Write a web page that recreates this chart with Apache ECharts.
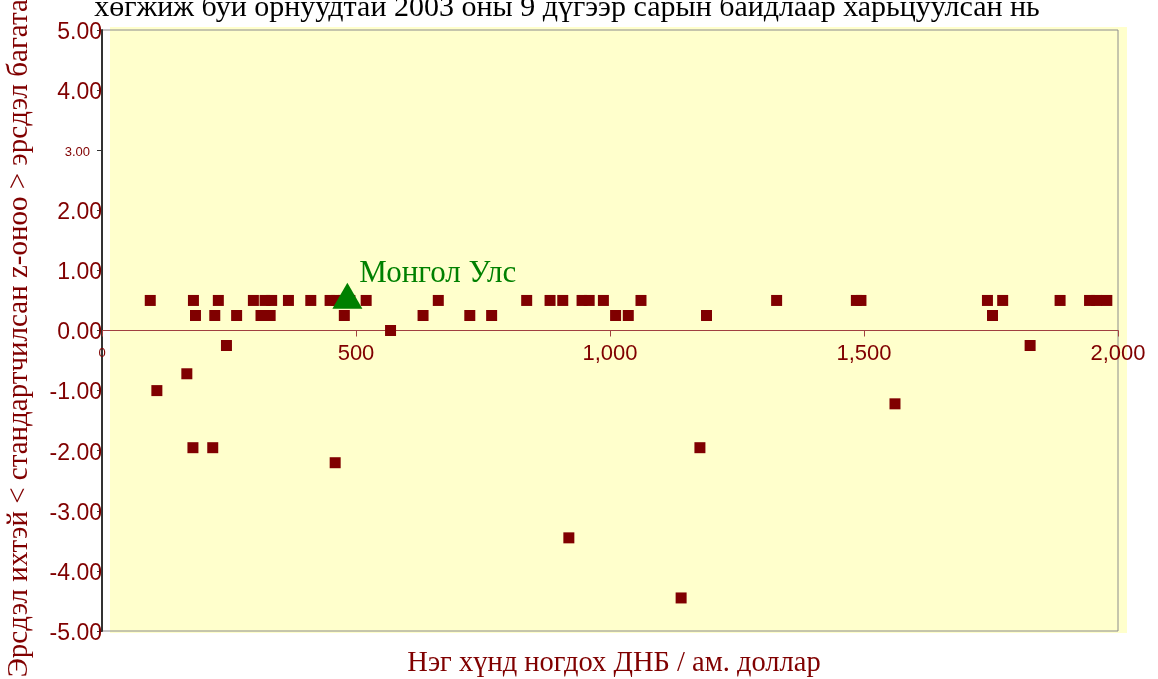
<!DOCTYPE html>
<html>
<head>
<meta charset="utf-8">
<script src="https://cdn.jsdelivr.net/npm/echarts@6/dist/echarts.min.js"></script>
<style>
  html, body { margin: 0; padding: 0; background: #fff; }
  #chart { width: 1158px; height: 679px; }
</style>
</head>
<body>
<div id="chart"></div>
<script>
// Нэг хүнд ногдох ДНБ (ам. доллар) ба z-оноо
var gdpPerCapita = [
  95, 180, 229, 298, 321, 334, 367, 411, 449, 462, 475, 488, 520, 662, 836, 882, 907, 945, 959, 987,
  1061, 1328, 1485, 1494, 1743, 1773, 1886, 1944, 1958, 1978,
  184, 222, 265, 313, 331, 477, 632, 724, 767, 1011, 1036, 1190, 1753,
  568,
  245, 1827,
  108, 167, 179, 218, 459, 919, 1140, 1177, 1561
];
var zScore = [
  0.5, 0.5, 0.5, 0.5, 0.5, 0.5, 0.5, 0.5, 0.5, 0.5, 0.5, 0.5, 0.5, 0.5, 0.5, 0.5, 0.5, 0.5, 0.5, 0.5,
  0.5, 0.5, 0.5, 0.5, 0.5, 0.5, 0.5, 0.5, 0.5, 0.5,
  0.25, 0.25, 0.25, 0.25, 0.25, 0.25, 0.25, 0.25, 0.25, 0.25, 0.25, 0.25, 0.25,
  0,
  -0.25, -0.25,
  -1.0, -0.72, -1.95, -1.95, -2.2, -3.45, -4.45, -1.95, -1.22
];
// Монгол Улс
var mongoliaName = "Монгол Улс";
var mongoliaGdp = 483;
var mongoliaZ = 0.58;

var xTicks = [0, 500, 1000, 1500, 2000];
var yTicks = [-5, -4, -3, -2, -1, 0, 1, 2, 3, 4, 5];

var titleText = "хөгжиж буй орнуудтай 2003 оны 9 дүгээр сарын байдлаар харьцуулсан нь";
var xName = "Нэг хүнд ногдох ДНБ / ам. доллар";
var yName = "Эрсдэл ихтэй < стандартчилсан z-оноо > эрсдэл багатай";

var red = "#800000";
var serif = "'Liberation Serif', 'DejaVu Serif', serif";
var sans = "'Liberation Sans', Arial, sans-serif";

var points = [];
for (var i = 0; i < gdpPerCapita.length; i++) {
  points.push([gdpPerCapita[i], zScore[i]]);
}

// grid
var gTop = 30, gBottom = 48, H = 679;
var gHeight = H - gTop - gBottom;
var yMin = yTicks[0], yMax = yTicks[yTicks.length - 1];
// x тэнхлэгийг 0 дээр байрлуулах
var xOffset = -gHeight * (0 - yMin) / (yMax - yMin);

var chart = echarts.init(document.getElementById("chart"));
chart.setOption({
  animation: false,
  backgroundColor: "#fff",
  grid: {
    left: 102, right: 40, top: gTop, bottom: gBottom,
    outerBoundsMode: "none",
    containLabel: false,
    show: true, borderColor: "#8c8c8c", borderWidth: 1,
    backgroundColor: "transparent"
  },
  graphic: {
    elements: [
      // шар дэвсгэр
      { type: "rect", z: -10, silent: true,
        shape: { x: 110, y: 27, width: 1017, height: 606 },
        style: { fill: "#FFFFCC" } },
      { type: "text", x: 567, y: -7, silent: true,
        style: { text: titleText, fill: "#000", font: "30px " + serif, align: "center", verticalAlign: "top" } },
      { type: "text", x: 614, y: 664, silent: true,
        style: { text: xName, fill: red, font: "28.5px " + serif, align: "center", verticalAlign: "middle" } }
    ]
  },
  xAxis: {
    type: "value",
    min: xTicks[0], max: xTicks[xTicks.length - 1], interval: 500,
    splitLine: { show: false },
    position: "bottom",
    offset: xOffset,
    axisLine: { onZero: false, lineStyle: { color: "#a04040", width: 1.2 } },
    axisTick: { show: true, length: 6, lineStyle: { color: "#a04040" } },
    axisLabel: {
      color: red, fontFamily: sans, fontSize: 22, margin: 12,
      formatter: function (v) { return v === 0 ? "{s|0}" : v.toLocaleString("en-US"); },
      rich: { s: { fontSize: 13, color: red, fontFamily: sans, padding: [4, 0, 0, 0] } }
    }
  },
  yAxis: {
    type: "value",
    min: yMin, max: yMax, interval: 1,
    splitLine: { show: false },
    name: yName, nameLocation: "middle", nameRotate: 90, nameGap: 68,
    nameTextStyle: { color: red, fontFamily: serif, fontSize: 29 },
    axisLine: { onZero: false, lineStyle: { color: "#333", width: 2 } },
    axisTick: { show: true, length: 5, lineStyle: { color: "#333" } },
    axisLabel: {
      color: red, fontFamily: sans, fontSize: 23, margin: 0,
      padding: [5, 0, 0, 0],
      formatter: function (v) { return v === 3 ? "{s|3.00}" : v.toFixed(2); },
      rich: { s: { fontSize: 13, color: red, fontFamily: sans, padding: [0, 12, 0, 0] } }
    }
  },
  series: [
    {
      type: "scatter",
      data: points,
      symbol: "rect",
      symbolSize: 11,
      itemStyle: { color: red, opacity: 1 }
    },
    {
      type: "scatter",
      data: [[mongoliaGdp, mongoliaZ]],
      symbol: "triangle",
      symbolSize: [30, 26],
      itemStyle: { color: "#008000", opacity: 1 },
      z: 3,
      label: {
        show: true, formatter: mongoliaName, position: "right", distance: 0, offset: [-3, -22],
        color: "#008000", fontFamily: serif, fontSize: 31
      }
    }
  ]
});
</script>
</body>
</html>
